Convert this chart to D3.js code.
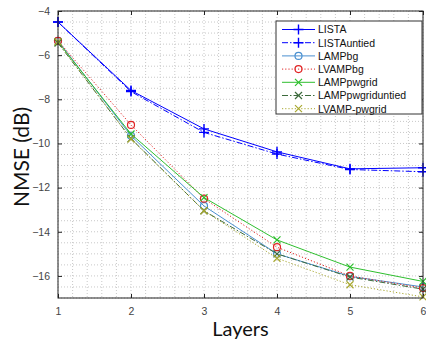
<!DOCTYPE html>
<html>
<head>
<meta charset="utf-8">
<script src="https://cdn.jsdelivr.net/npm/d3@7"></script>
<style>
  body { margin: 0; background: #fff; }
  text { font-family: "Liberation Sans", Arial, sans-serif; }
</style>
</head>
<body>
<svg id="chart" width="426" height="341"></svg>
<script>
// data
var layers = [1, 2, 3, 4, 5, 6];
var lista            = [-4.5, -7.6, -9.34, -10.38, -11.15, -11.1];
var listaUntied      = [-4.5, -7.65, -9.5, -10.48, -11.18, -11.28];
var lampBg           = [-5.35, -9.65, -12.83, -15.0, -16.02, -16.5];
var lvampBg          = [-5.35, -9.16, -12.5, -14.7, -16.0, -16.55];
var lampPwgrid       = [-5.4, -9.57, -12.45, -14.37, -15.6, -16.25];
var lampPwgridUntied = [-5.45, -9.78, -13.05, -15.0, -16.05, -16.6];
var lvampPwgrid      = [-5.4, -9.8, -13.05, -15.2, -16.4, -16.95];

var seriesNames = ["LISTA", "LISTAuntied", "LAMPbg", "LVAMPbg", "LAMPpwgrid", "LAMPpwgriduntied", "LVAMP-pwgrid"];
var xTicks = [1, 2, 3, 4, 5, 6];
var yTicks = [-16, -14, -12, -10, -8, -6, -4];

var series = [
  {name: seriesNames[0], values: lista,            color: "#0000ff", dash: null,            marker: "plus"},
  {name: seriesNames[1], values: listaUntied,      color: "#0000ff", dash: "6,2,1.5,2",     marker: "plus"},
  {name: seriesNames[2], values: lampBg,           color: "#4a90d0", dash: null,            marker: "circle"},
  {name: seriesNames[3], values: lvampBg,          color: "#e02424", dash: "1.2,2",         marker: "circle"},
  {name: seriesNames[4], values: lampPwgrid,       color: "#2fbf2f", dash: null,            marker: "x"},
  {name: seriesNames[5], values: lampPwgridUntied, color: "#3c6a3c", dash: "6,2,1.5,2",     marker: "x"},
  {name: seriesNames[6], values: lvampPwgrid,      color: "#a8a830", dash: "1.2,2",         marker: "x"}
];

var svg = d3.select("#chart");
var margin = {top: 11, right: 3, bottom: 43, left: 58};
var width = 426 - margin.left - margin.right,
    height = 341 - margin.top - margin.bottom;

var x = d3.scaleLinear().domain([1, 6]).range([0, width]);
var y = d3.scaleLinear().domain([-17, -4]).range([height, 0]);

var g = svg.append("g")
    .attr("transform", "translate(" + margin.left + "," + margin.top + ")");

// grid (dotted, major + minor)
var gx = d3.range(1, 6.001, 0.2), gy = d3.range(-17, -3.999, 0.5);
g.append("g").selectAll("line").data(gx).enter().append("line")
    .attr("x1", d => x(d)).attr("x2", d => x(d))
    .attr("y1", 0).attr("y2", height)
    .attr("stroke", "#c8c8c8").attr("stroke-width", 1)
    .attr("stroke-dasharray", "1,2");
g.append("g").selectAll("line").data(gy).enter().append("line")
    .attr("x1", 0).attr("x2", width)
    .attr("y1", d => y(d)).attr("y2", d => y(d))
    .attr("stroke", "#c8c8c8").attr("stroke-width", 1)
    .attr("stroke-dasharray", "1,2");

// axes, ticks inward
var xAxis = d3.axisBottom(x).tickValues(xTicks).tickFormat(d3.format("d"))
    .tickSizeInner(-4).tickSizeOuter(0).tickPadding(10);
var yAxis = d3.axisLeft(y).tickValues(yTicks).tickFormat(d3.format("d"))
    .tickSizeInner(-4).tickSizeOuter(0).tickPadding(8);
var gX = g.append("g").attr("transform", "translate(0," + height + ")").call(xAxis);
var gY = g.append("g").call(yAxis);
g.append("g").call(d3.axisTop(x).tickValues(xTicks).tickSizeInner(-4).tickSizeOuter(0).tickFormat(""));
g.append("g").attr("transform", "translate(" + width + ",0)")
    .call(d3.axisRight(y).tickValues(yTicks).tickSizeInner(-4).tickSizeOuter(0).tickFormat(""));
g.selectAll(".domain").remove();
g.selectAll(".tick line").attr("stroke", "#222");
[gX, gY].forEach(function(a) {
  a.selectAll("text").attr("fill", "#444").style("font-size", "10.5px")
      .style("font-family", "'Liberation Sans', Arial, sans-serif");
});

// lines
var line = d3.line()
    .x((d, i) => x(layers[i]))
    .y(d => y(d));

function drawMarker(sel, type, color) {
  if (type === "circle") {
    sel.append("circle").attr("r", 3.5).attr("fill", "none").attr("stroke", color).attr("stroke-width", 1.2);
  } else if (type === "plus") {
    sel.append("path").attr("d", "M-5,0H5M0,-5V5").attr("stroke", color).attr("stroke-width", 1.4);
  } else {
    sel.append("path").attr("d", "M-3.5,-3.5L3.5,3.5M-3.5,3.5L3.5,-3.5").attr("stroke", color).attr("stroke-width", 1.2);
  }
}

var plot = g.append("g");
series.forEach(function(s) {
  plot.append("path")
      .datum(s.values)
      .attr("fill", "none")
      .attr("stroke", s.color)
      .attr("stroke-width", 1)
      .attr("stroke-dasharray", s.dash)
      .attr("d", line);
});
series.forEach(function(s) {
  s.values.forEach(function(v, i) {
    var m = plot.append("g").attr("transform", "translate(" + x(layers[i]) + "," + y(v) + ")");
    drawMarker(m, s.marker, s.color);
  });
});

// frame
g.append("rect").attr("width", width).attr("height", height)
    .attr("fill", "none").attr("stroke", "#222").attr("stroke-width", 1);

// legend
var lg = svg.append("g").attr("transform", "translate(276,21)");
lg.append("rect").attr("width", 146).attr("height", 93)
    .attr("fill", "#fff").attr("stroke", "#333").attr("stroke-width", 1);
series.forEach(function(s, i) {
  var row = lg.append("g").attr("transform", "translate(0," + (8.5 + i * 13.2) + ")");
  row.append("line").attr("x1", 6).attr("x2", 39).attr("y1", 0).attr("y2", 0)
      .attr("stroke", s.color).attr("stroke-width", 1).attr("stroke-dasharray", s.dash);
  var m = row.append("g").attr("transform", "translate(22.5,0)");
  drawMarker(m, s.marker, s.color);
  row.append("text").attr("x", 42).attr("y", 3.8).text(s.name)
      .style("font-size", "10.5px").attr("fill", "#111");
});

// axis labels
svg.append("text")
    .attr("x", margin.left + width / 2).attr("y", 336)
    .attr("text-anchor", "middle")
    .style("font-family", "Lato, sans-serif").style("font-size", "20px")
    .attr("fill", "#111")
    .text("Layers");
svg.append("text")
    .attr("transform", "translate(29," + (margin.top + 146) + ") rotate(-90)")
    .attr("text-anchor", "middle")
    .style("font-family", "Lato, sans-serif").style("font-size", "21px")
    .attr("fill", "#111")
    .text("NMSE (dB)");
</script>
</body>
</html>
